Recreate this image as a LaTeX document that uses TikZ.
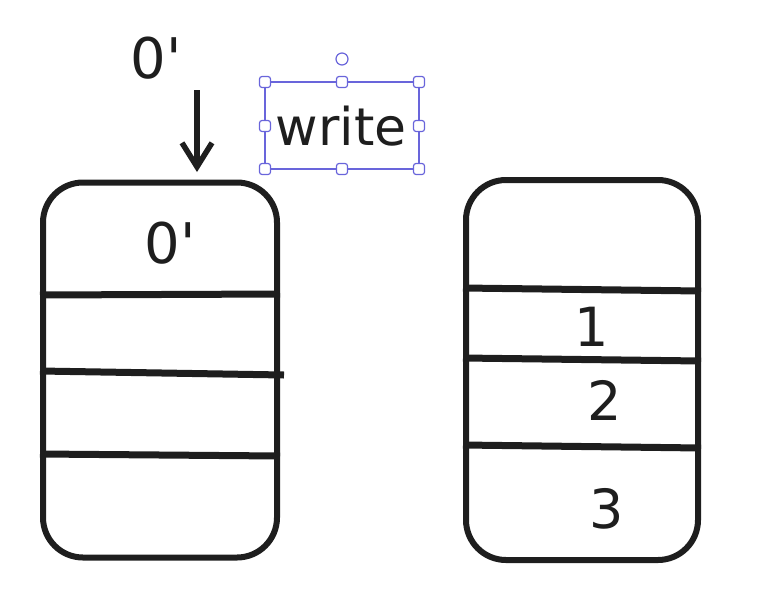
\documentclass[tikz,border=0pt]{standalone}
\usepackage{fontspec}
\setmainfont{DejaVu Sans}
\usetikzlibrary{arrows.meta}
\definecolor{ink}{HTML}{1E1E1E}
\definecolor{sel}{HTML}{6965DB}
\newcommand{\tick}{\textquotesingle}
\begin{document}
\begin{tikzpicture}[x=1pt,y=-1pt,
  stack/.style={draw=ink,line width=6pt,rounded corners=40pt,minimum width=234pt,minimum height=375pt,inner sep=0pt},
  divider/.style={draw=ink,line width=7pt},
  hand/.style={text=ink,font=\fontsize{54}{54}\selectfont,inner sep=0pt},
  prime/.style={hand,font=\fontsize{56}{56}\selectfont},
  handle/.style={draw=sel,fill=white,line width=1.2pt,rounded corners=2.5pt,minimum size=11pt,inner sep=0pt},
  selbox/.style={draw=sel,line width=1.2pt}]
\useasboundingbox (0,0) rectangle (784,592);
% left stack
\node[stack] (L) at (160,370) {};
\draw[divider] (L.west |- 0,295) -- (L.east |- 0,294);
\draw[divider] (L.west |- 0,371) -- ([xshift=4pt]L.east |- 0,375);
\draw[divider] (L.west |- 0,454) -- (L.east |- 0,456);
\node[prime] (l0) at (170,243) {0\tick};
% right stack
\node[stack,minimum width=232pt,minimum height=380pt] (R) at (582,370) {};
\draw[divider] (R.west |- 0,288) -- (R.east |- 0,291);
\draw[divider] (R.west |- 0,358) -- (R.east |- 0,361);
\draw[divider] (R.west |- 0,445) -- (R.east |- 0,448);
\node[hand] (r1) at (592,327) {1};
\node[hand] (r2) at (605,400) {2};
\node[hand] (r3) at (607,509) {3};
% incoming value
\node[prime] (top) at (156,58) {0\tick};
\coordinate (a0) at (197,90);
\coordinate (a1) at (197,172);
\draw[ink,line width=5.5pt,-{Straight Barb[length=24pt,width=30pt,line width=5.5pt]}] (a0) -- (a1);
% write label with selection frame
\node[hand,font=\fontsize{52}{52}\selectfont] (w) at (341,126) {write};
\draw[selbox] (265,82) rectangle (419,169);
\foreach \x in {265,342,419}{\node[handle] at (\x,82) {}; \node[handle] at (\x,169) {};}
\node[handle] at (265,126) {};
\node[handle] at (419,126) {};
\node[draw=sel,fill=white,line width=1.2pt,circle,minimum size=12pt,inner sep=0pt] (rot) at (342,59) {};
\end{tikzpicture}
\end{document}
